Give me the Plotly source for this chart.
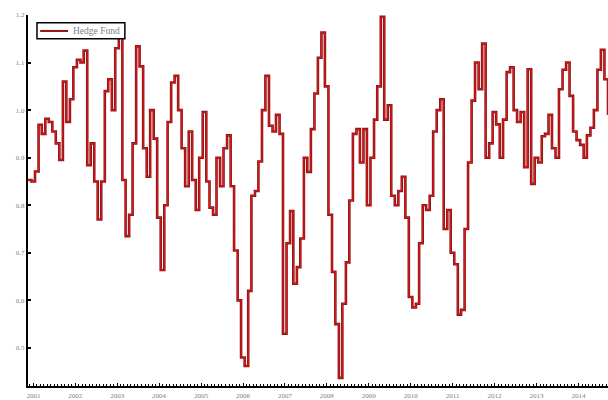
import pandas as pd
import plotly.graph_objects as go

# Monthly index level of the hedge fund series (mid-month observations)
start_month = "2000-11-01"
values = [
    0.853, 0.850, 0.871, 0.969, 0.950, 0.982, 0.975, 0.955, 0.930, 0.895,
    1.060, 0.975, 1.023, 1.090, 1.106, 1.100, 1.125, 0.884, 0.930, 0.850,
    0.770, 0.850, 1.040, 1.065, 1.000, 1.130, 1.163, 0.853, 0.735, 0.780,
    0.930, 1.134, 1.092, 0.920, 0.860, 1.000, 0.940, 0.774, 0.664, 0.800,
    0.975, 1.058, 1.072, 1.000, 0.920, 0.840, 0.955, 0.853, 0.790, 0.900,
    0.996, 0.850, 0.795, 0.780, 0.900, 0.840, 0.920, 0.947, 0.840, 0.705,
    0.600, 0.480, 0.462, 0.620, 0.820, 0.830, 0.892, 1.000, 1.072, 0.967,
    0.955, 0.990, 0.950, 0.530, 0.720, 0.788, 0.635, 0.670, 0.730, 0.900,
    0.870, 0.960, 1.035, 1.110, 1.163, 1.050, 0.780, 0.660, 0.550, 0.437,
    0.593, 0.680, 0.810, 0.950, 0.960, 0.890, 0.960, 0.800, 0.900, 0.980,
    1.050, 1.196, 0.980, 1.010, 0.820, 0.800, 0.830, 0.860, 0.774, 0.607,
    0.585, 0.593, 0.720, 0.800, 0.790, 0.820, 0.955, 1.000, 1.023, 0.750,
    0.790, 0.700, 0.676, 0.570, 0.580, 0.750, 0.890, 1.020, 1.100, 1.044,
    1.140, 0.900, 0.930, 0.996, 0.970, 0.900, 0.980, 1.080, 1.090, 1.000,
    0.975, 0.996, 0.880, 1.086, 0.845, 0.900, 0.890, 0.945, 0.950, 0.990,
    0.920, 0.900, 1.044, 1.085, 1.100, 1.030, 0.955, 0.937, 0.927, 0.900,
    0.947, 0.963, 1.000, 1.085, 1.127, 1.065, 0.990,
]
series_name = "Hedge Fund"
year_ticks = list(range(2001, 2015))

dates = pd.date_range(start_month, periods=len(values), freq="MS") + pd.Timedelta(days=14)

edge_color = "#8c1414"
core_color = "#e61a1e"
label_color = "#7a8290"

fig = go.Figure()
# dark-edged red step line: a wide dark stroke with a thin bright core on top
fig.add_trace(go.Scatter(
    x=dates, y=values, mode="lines", name=series_name, showlegend=False,
    line=dict(color=edge_color, width=2.6, shape="hv"),
))
fig.add_trace(go.Scatter(
    x=dates, y=values, mode="lines", name=series_name, showlegend=False,
    hoverinfo="skip",
    line=dict(color=core_color, width=0.9, shape="hv"),
))

# Boxed legend in the upper-left corner of the plot area
fig.add_shape(type="rect", xref="paper", yref="paper",
              x0=0.0155, x1=0.167, y0=0.936, y1=0.979,
              line=dict(color="black", width=1.5), fillcolor="white", layer="above")
fig.add_shape(type="line", xref="paper", yref="paper",
              x0=0.021, x1=0.069, y0=0.957, y1=0.957,
              line=dict(color=edge_color, width=2), layer="above")
fig.add_annotation(text=series_name, xref="paper", yref="paper",
                   x=0.074, y=0.957, xanchor="left", yanchor="middle",
                   showarrow=False,
                   font=dict(family="Liberation Serif", size=9.5, color=label_color))

label_font = dict(family="Liberation Serif", size=7, color=label_color)

fig.update_layout(
    width=608, height=400,
    margin=dict(l=28, r=0, t=15, b=10),
    paper_bgcolor="white", plot_bgcolor="white",
    showlegend=False,
    xaxis=dict(
        range=[dates[0], dates[-1]],
        showgrid=False, zeroline=False,
        showline=True, linecolor="black", linewidth=2,
        ticks="inside", ticklen=3, tickcolor="black", tickwidth=1,
        tickvals=[pd.Timestamp(f"{y}-01-01") for y in year_ticks],
        ticktext=[str(y) for y in year_ticks],
        tickfont=label_font,
        ticklabelstandoff=2,
        minor=dict(ticks="inside", dtick="M1", ticklen=2, tickcolor="black"),
    ),
    yaxis=dict(
        range=[0.42, 1.2],
        showgrid=False, zeroline=False,
        showline=True, linecolor="black", linewidth=2,
        ticks="inside", ticklen=3, tickcolor="black", tickwidth=2,
        tickvals=[0.5, 0.6, 0.7, 0.8, 0.9, 1.0, 1.1, 1.2],
        tickformat=".1f",
        tickfont=label_font,
    ),
)

fig.write_html("out.html")
